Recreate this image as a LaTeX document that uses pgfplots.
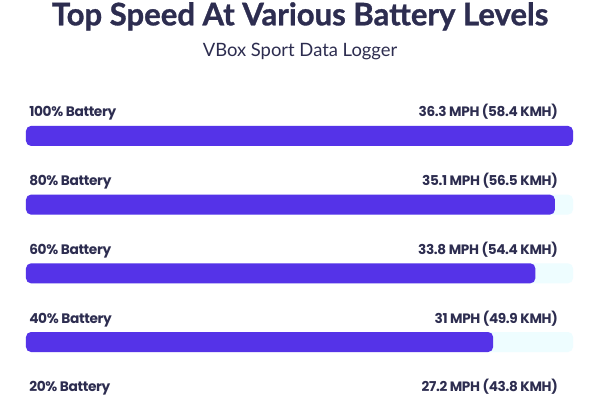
\documentclass[border=0pt]{standalone}
\usepackage{pgfplots}
\usepackage{pgfplotstable}
\pgfplotsset{compat=1.18}
\usepackage{fontspec}
\setmainfont{Poppins}[BoldFont={Poppins Bold}, BoldFeatures={LetterSpace=-2.5}]
\newfontfamily\titlefont{Lato}[BoldFeatures={FakeBold=1}]
\definecolor{barpurple}{HTML}{5533E8}
\definecolor{track}{HTML}{EEFDFF}
\definecolor{ink}{HTML}{2D2D50}

% y: row position (4 = top), speeds in MPH
\pgfplotstableread[col sep=comma]{
y,mph,track,label
4,36.3,36.3,36.3 MPH (58.4 KMH)
3,35.1,36.3,35.1 MPH (56.5 KMH)
2,33.8,36.3,33.8 MPH (54.4 KMH)
1,31,36.3,31 MPH (49.9 KMH)
0,27.2,36.3,27.2 MPH (43.8 KMH)
}\speeds

\begin{document}
\begin{tikzpicture}
\useasboundingbox (0,0) rectangle (450pt,300pt);
\clip (0,0) rectangle (450pt,300pt);
\fill[white] (0,0) rectangle (450pt,300pt);

\node[anchor=base, text=ink, inner sep=0pt] at (225pt,281pt)
  {\titlefont\bfseries\fontsize{23.3}{28}\selectfont Top Speed At Various Battery Levels};
\node[anchor=base, text=ink, inner sep=0pt] at (225pt,257.5pt)
  {\titlefont\fontsize{13.8}{16}\selectfont VBox Sport Data Logger};

\begin{axis}[
  at={(19.5pt,-33.79pt)}, anchor=south west,
  scale only axis, width=410.25pt, height=257.6pt,
  xmin=0, xmax=36.3, ymin=-0.5, ymax=4.5,
  axis line style={draw=none}, tick style={draw=none},
  xtick=\empty,
  ytick={0,...,4},
  yticklabels={20\% Battery,40\% Battery,60\% Battery,80\% Battery,100\% Battery},
  yticklabel style={anchor=base west, inner sep=0pt, xshift=2.25pt, yshift=14.25pt,
    text=ink, font=\bfseries\fontsize{10.3}{12}\selectfont},
  clip=false,
]
\addplot[xbar, bar shift=0pt, bar width=15pt, fill=track, draw=none, rounded corners=3.75pt,
  point meta=explicit symbolic, nodes near coords,
  every node near coord/.style={anchor=base east, inner sep=0pt, xshift=-11.25pt, yshift=14.25pt,
    text=ink, font=\bfseries\fontsize{10.2}{12}\selectfont}]
  table[x=track, y=y, meta=label] {\speeds};
\addplot[xbar, bar shift=0pt, bar width=15pt, fill=barpurple, draw=none, rounded corners=3.75pt]
  table[x=mph, y=y] {\speeds};
\end{axis}
\end{tikzpicture}
\end{document}
